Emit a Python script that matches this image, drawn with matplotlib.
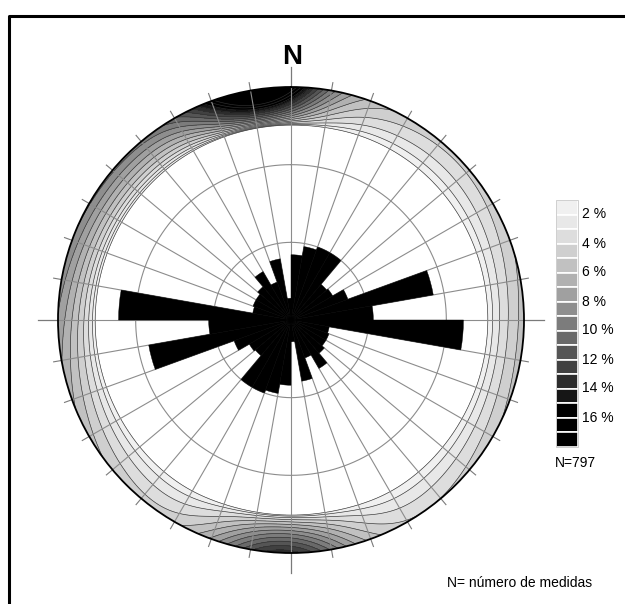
import numpy as np
import matplotlib.pyplot as plt
from matplotlib.patches import Rectangle

plt.rcParams['font.family'] = ['Liberation Sans', 'DejaVu Sans']

# roseta de fraturas: classes de 10 graus (dados axiais, espelhados em +180)
classes = np.arange(0, 180, 10)
freq = [4.2, 4.8, 5.0, 5.0, 3.0, 3.1, 3.9, 9.3, 5.3,
        11.1, 2.5, 2.6, 2.6, 2.8, 3.6, 2.6, 4.0, 1.4]
r_max = 15          # raio do circulo (%)
aneis = [5, 10]

# concentracoes de polos junto ao circulo primitivo (azimute, amplitude, kappa)
picos_az = [352, 340, 182, 285, 95]
picos_amp = [15.0, 4.0, 10.0, 4.5, 2.0]
picos_kappa = [30, 4, 22, 3, 5]
base = 3.5

legenda_niveis = list(range(2, 18, 2))
n_medidas = 797

W, H = 625, 604
cx, cy, R = 291, 320, 233


def cinza(k):
    v = 0.94 * (1 - min(k / 14.0, 1.0) ** 1.3)
    return (v, v, v)


fig = plt.figure(figsize=(W / 100, H / 100), dpi=100)
ax = fig.add_axes([(cx - R) / W, 1 - (cy + R) / H, 2 * R / W, 2 * R / H],
                  projection='polar')
ax.set_theta_zero_location('N')
ax.set_theta_direction(-1)
ax.set_ylim(0, r_max)
ax.set_xticks([])
ax.set_yticks([])
ax.grid(False)

# densidade (%) na faixa externa do estereograma
th = np.radians(np.linspace(0, 360, 721))
rho = np.linspace(0.78, 1.0, 160)
T, P = np.meshgrid(th, rho)
amp = np.full_like(T, base)
for mu, a, k in zip(picos_az, picos_amp, picos_kappa):
    amp += a * np.exp(k * (np.cos(T - np.radians(mu)) - 1))
rho0 = 0.835
s = np.clip((P - rho0) / (1 - rho0), 0, 1)
dens = amp * s ** 0.6

niveis = list(range(1, 19)) + [100]
cores = [cinza(k) for k in range(len(niveis) - 1)]
ax.contourf(T, P * r_max, dens, levels=niveis, colors=cores, zorder=1)
ax.contour(T, P * r_max, dens, levels=list(range(1, 18)),
           colors='#303030', linewidths=0.45, zorder=1.5)

# rede: raios a cada 10 graus e aneis
for a in range(0, 360, 10):
    t = np.radians(a)
    ax.plot([t, t], [0, r_max], color='#8c8c8c', lw=0.8, zorder=2)
    if a % 90 == 0:
        ax.plot([t, t], [r_max, r_max * 253 / 233], color='#7a7a7a',
                lw=0.9, zorder=2, clip_on=False)
    else:
        ax.plot([t, t], [r_max, r_max * 241 / 233], color='#7a7a7a',
                lw=0.8, zorder=2, clip_on=False)
anel_t = np.linspace(0, 2 * np.pi, 361)
for rr in aneis:
    ax.plot(anel_t, np.full_like(anel_t, rr), color='#8c8c8c', lw=0.8, zorder=2)

# petalas da roseta
ang = np.concatenate([classes, classes + 180]) + 5
comp = np.concatenate([freq, freq])
ax.bar(np.radians(ang), comp, width=np.radians(10), bottom=0,
       color='black', edgecolor='black', linewidth=0.3, zorder=3)

ax.spines['polar'].set_linewidth(1.3)
ax.spines['polar'].set_color('black')

# camada de anotacoes em pixels
ov = fig.add_axes([0, 0, 1, 1])
ov.set_xlim(0, W)
ov.set_ylim(H, 0)
ov.axis('off')
ov.patch.set_alpha(0)

ov.plot([8.5, 8.5, W], [H, 15.5, 15.5], color='black', lw=2.2)
ov.text(292, 57, 'N', fontsize=20, fontweight='bold', ha='center', va='center')

y0, hb = 200, 14.5
for k in range(17):
    ov.add_patch(Rectangle((556, y0 + k * hb), 22, hb, facecolor=cinza(k),
                           edgecolor='white', lw=1.2))
ov.add_patch(Rectangle((556, y0), 22, 17 * hb, fill=False,
                       edgecolor='#c8c8c8', lw=0.6))
for j, v in enumerate(legenda_niveis):
    ov.text(582, y0 + (2 * j + 1) * hb, f'{v} %', fontsize=10,
            ha='left', va='center')
ov.text(555, 463, f'N={n_medidas}', fontsize=10, ha='left', va='center')
ov.text(447, 583, 'N= número de medidas', fontsize=10, ha='left', va='center')

fig.savefig('out.png', dpi=100)
